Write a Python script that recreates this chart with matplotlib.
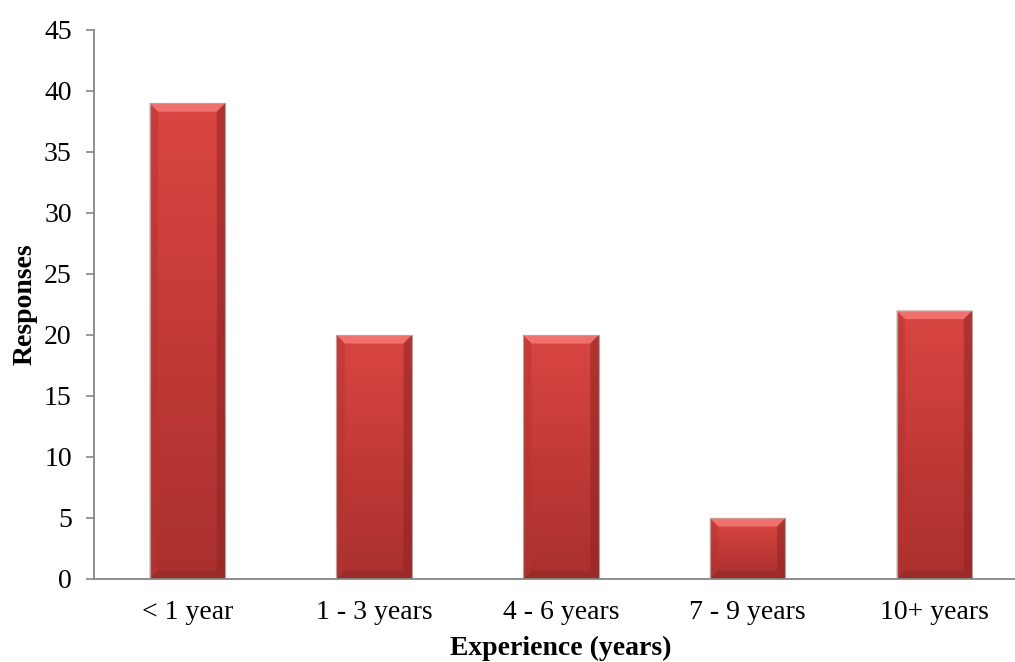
import numpy as np
import matplotlib.pyplot as plt
from matplotlib.patches import Polygon
from matplotlib.colors import LinearSegmentedColormap

plt.rcParams['font.family'] = ['Liberation Serif', 'DejaVu Serif']

categories = ['< 1 year', '1 - 3 years', '4 - 6 years', '7 - 9 years', '10+ years']
responses = [39, 20, 20, 5, 22]
y_ticks = [0, 5, 10, 15, 20, 25, 30, 35, 40, 45]

fig = plt.figure(figsize=(10.15, 6.62), dpi=100)
ax = fig.add_axes([0.0926, 0.1254, 0.920, 0.8293])

x = np.arange(len(categories))
bar_w = 0.405
bars = ax.bar(x, responses, width=bar_w, color='#c93c39',
              edgecolor='#b0b0b0', linewidth=0.8, zorder=2)

# vertical red gradient plus a bevelled rim on every bar
grad = LinearSegmentedColormap.from_list('redgrad', ['#a9302e', '#c23a37', '#d94643'])
ramp = np.linspace(0, 1, 256).reshape(-1, 1)
bx = 0.045   # bevel width in x units
by = 0.70    # bevel height in y units
for rect in bars:
    x0, w, h = rect.get_x(), rect.get_width(), rect.get_height()
    im = ax.imshow(ramp, cmap=grad, aspect='auto', origin='lower',
                   extent=(x0, x0 + w, 0, h), zorder=2.1)
    im.set_clip_path(rect)
    x1, top = x0 + w, h
    top_bev = Polygon([(x0, top), (x1, top), (x1 - bx, top - by), (x0 + bx, top - by)],
                      closed=True, facecolor='#ee716d', edgecolor='none', zorder=2.2)
    left_bev = Polygon([(x0, 0), (x0, top), (x0 + bx, top - by), (x0 + bx, by)],
                       closed=True, facecolor='#b8332f', alpha=0.5, edgecolor='none', zorder=2.2)
    right_bev = Polygon([(x1, 0), (x1, top), (x1 - bx, top - by), (x1 - bx, by)],
                        closed=True, facecolor='#8e2523', alpha=0.55, edgecolor='none', zorder=2.2)
    bot_bev = Polygon([(x0, 0), (x1, 0), (x1 - bx, by), (x0 + bx, by)],
                      closed=True, facecolor='#8f2826', alpha=0.5, edgecolor='none', zorder=2.2)
    for p in (top_bev, left_bev, right_bev, bot_bev):
        ax.add_patch(p)
    ax.add_patch(plt.Rectangle((x0, 0), w, h, facecolor='none',
                               edgecolor='#a8a8a8', linewidth=0.8, zorder=2.3))

ax.set_xlim(-0.5, len(categories) - 0.5)
ax.set_ylim(0, 45)
ax.set_yticks(y_ticks)
ax.set_xticks(x)
ax.set_xticklabels(categories, fontsize=20)
ax.tick_params(axis='y', labelsize=20, length=6, width=1.2, color='#868686', pad=10)
ax.tick_params(axis='x', length=0, pad=15)

for s in ('top', 'right'):
    ax.spines[s].set_visible(False)
for s in ('left', 'bottom'):
    ax.spines[s].set_color('#868686')
    ax.spines[s].set_linewidth(1.3)

ax.set_xlabel('Experience (years)', fontsize=20, fontweight='bold', labelpad=8)
ax.set_ylabel('Responses', fontsize=20, fontweight='bold', labelpad=5)

fig.savefig('out.png', dpi=100)
